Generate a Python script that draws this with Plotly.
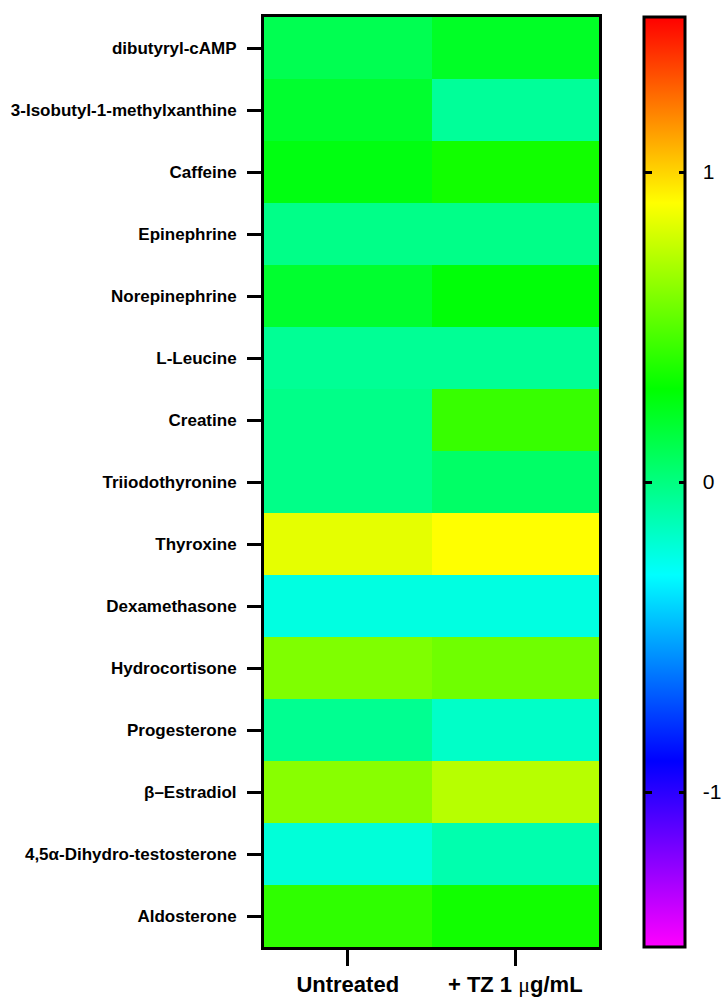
import plotly.graph_objects as go

# Compounds, listed top to bottom
compounds = [
    "dibutyryl-cAMP",
    "3-Isobutyl-1-methylxanthine",
    "Caffeine",
    "Epinephrine",
    "Norepinephrine",
    "L-Leucine",
    "Creatine",
    "Triiodothyronine",
    "Thyroxine",
    "Dexamethasone",
    "Hydrocortisone",
    "Progesterone",
    "β–Estradiol",
    "4,5α-Dihydro-testosterone",
    "Aldosterone",
]

conditions = ["Untreated", "+ TZ 1 <span style=\"font-family:'Liberation Serif';font-weight:normal\">μ</span>g/mL"]

untreated = [0.11, 0.19, 0.26, -0.02, 0.19, -0.05, -0.02, -0.02, 0.84, -0.23, 0.60, -0.04, 0.62, -0.21, 0.41]
tz_treated = [0.21, -0.06, 0.34, -0.02, 0.28, -0.05, 0.43, 0.06, 0.90, -0.23, 0.56, -0.17, 0.73, -0.11, 0.34]

cbar_ticks = [-1, 0, 1]
cbar_ticktext = ["\u00a0\u00a0-1", "\u00a0\u00a00", "\u00a0\u00a01"]

z = [[u, t] for u, t in zip(untreated, tz_treated)]
ZMIN, ZMAX = -1.5, 1.5

rainbow = [
    [0.0, "#ff00ff"],
    [0.2, "#0000ff"],
    [0.4, "#00ffff"],
    [0.6, "#00ff00"],
    [0.8, "#ffff00"],
    [1.0, "#ff0000"],
]
clear = [[0.0, "rgba(0,0,0,0)"], [1.0, "rgba(0,0,0,0)"]]

W, H = 726, 999
L, R, T, B = 263.5, 127, 16.5, 52
plot_w = W - L - R

# colour bar geometry in pixels
cb_left_px = 644.5
cb_thick = 41

tick_font = dict(family="Liberation Sans, Arial", size=21, color="black")

fig = go.Figure()

fig.add_trace(
    go.Heatmap(
        z=z,
        x=conditions,
        y=compounds,
        zmin=ZMIN,
        zmax=ZMAX,
        colorscale=rainbow,
        colorbar=dict(
            x=(cb_left_px - L) / plot_w,
            xanchor="left",
            xpad=0,
            ypad=0,
            y=0.5,
            yanchor="middle",
            len=1,
            lenmode="fraction",
            thickness=cb_thick,
            thicknessmode="pixels",
            outlinecolor="black",
            outlinewidth=3,
            tickvals=cbar_ticks,
            ticktext=cbar_ticktext,
            ticks="inside",
            ticklen=7,
            tickwidth=3,
            tickcolor="black",
            tickfont=tick_font,
        ),
    )
)

# transparent twin whose colour bar only carries the left-edge tick marks
fig.add_trace(
    go.Heatmap(
        z=z,
        x=conditions,
        y=compounds,
        zmin=ZMIN,
        zmax=ZMAX,
        colorscale=clear,
        hoverinfo="skip",
        colorbar=dict(
            x=(cb_left_px - L) / plot_w,
            xanchor="left",
            xpad=0,
            ypad=0,
            y=0.5,
            yanchor="middle",
            len=1,
            lenmode="fraction",
            thickness=8,
            thicknessmode="pixels",
            outlinewidth=0,
            tickvals=cbar_ticks,
            ticks="inside",
            ticklen=8,
            tickwidth=3,
            tickcolor="black",
            showticklabels=False,
        ),
    )
)

fig.update_layout(
    width=W,
    height=H,
    margin=dict(l=L, r=R, t=T, b=B, autoexpand=False),
    paper_bgcolor="white",
    plot_bgcolor="white",
    font=dict(family="Liberation Sans, Arial", color="black"),
)

fig.update_xaxes(
    showline=True,
    linecolor="black",
    linewidth=3,
    mirror=True,
    ticks="outside",
    ticklen=16,
    tickwidth=3,
    tickcolor="black",
    tickfont=dict(family="Liberation Sans, Arial", size=22, color="black", weight="bold"),
    showgrid=False,
    zeroline=False,
)

fig.update_yaxes(
    autorange="reversed",
    showline=True,
    linecolor="black",
    linewidth=3,
    mirror=True,
    ticks="outside",
    ticklen=14,
    tickwidth=3,
    tickcolor="black",
    ticklabelstandoff=7,
    tickfont=dict(family="Liberation Sans, Arial", size=17, color="black", weight="bold"),
    showgrid=False,
    zeroline=False,
)

fig.write_html("out.html")
